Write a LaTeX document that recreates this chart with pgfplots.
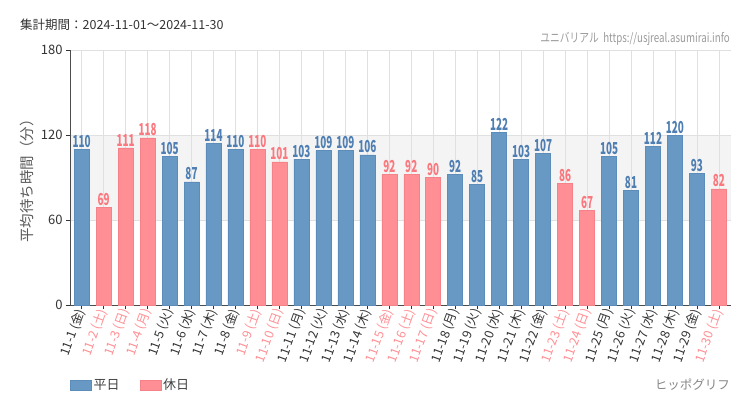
\documentclass[border=0pt]{standalone}
\usepackage{pgfplots}
\pgfplotsset{compat=1.18}
\usepackage{fontspec}
\setmainfont{Noto Sans CJK JP}
\definecolor{wk}{RGB}{104,152,196}
\definecolor{wkd}{RGB}{92,140,186}
\definecolor{wkt}{RGB}{78,126,178}
\definecolor{hol}{RGB}{255,143,148}
\definecolor{hold}{RGB}{244,130,136}
\definecolor{holt}{RGB}{250,120,126}
\definecolor{txt}{RGB}{51,51,51}
\definecolor{gridc}{RGB}{224,224,224}
\definecolor{band}{RGB}{244,244,244}
\begin{document}
\begin{tikzpicture}
\path[use as bounding box] (0,0) rectangle (750pt,410pt);
\fill[band] (70pt,190pt) rectangle (731pt,275pt);
\node[anchor=west,text=txt,font=\fontsize{12.5}{13}\selectfont,inner sep=0] at (20pt,385pt) {集計期間：2024-11-01～2024-11-30};
\node[anchor=east,text=gray!80,font=\fontsize{12.5}{13}\selectfont,inner sep=0] at (730pt,371pt) {\scalebox{0.78}[1]{ユニバリアル\ \ https://usjreal.asumirai.info}};
\node[anchor=east,text=gray!95,font=\fontsize{12.5}{13}\selectfont,inner sep=0] at (730pt,25pt) {ヒッポグリフ};
\begin{axis}[
  at={(70pt,105pt)}, anchor=south west,
  scale only axis, width=661pt, height=255pt,
  xmin=-0.53, xmax=29.55, ymin=0, ymax=180,
  axis lines*=left,
  axis line style={color=black!70, line width=0.8pt},
  ytick={0,60,120,180},
  xtick={0,...,29},
  xmajorgrids, ymajorgrids,
  grid style={gridc, line width=0.6pt},
  tick align=outside,
  major tick length=4pt,
  tick style={black!80, line width=0.8pt},
  /pgf/number format/assume math mode=true,
  yticklabel style={font=\fontsize{13}{13}\selectfont, text=txt},
  xticklabel style={font=\fontsize{12.5}{13}\selectfont, text=txt, rotate=70, anchor=east, inner sep=0.5pt},
  xticklabels={{11-1 (金)},{\color{hol}11-2 (土)},{\color{hol}11-3 (日)},{\color{hol}11-4 (月)},{11-5 (火)},{11-6 (水)},{11-7 (木)},{11-8 (金)},{\color{hol}11-9 (土)},{\color{hol}11-10 (日)},{11-11 (月)},{11-12 (火)},{11-13 (水)},{11-14 (木)},{\color{hol}11-15 (金)},{\color{hol}11-16 (土)},{\color{hol}11-17 (日)},{11-18 (月)},{11-19 (火)},{11-20 (水)},{11-21 (木)},{11-22 (金)},{\color{hol}11-23 (土)},{\color{hol}11-24 (日)},{11-25 (月)},{11-26 (火)},{11-27 (水)},{11-28 (木)},{11-29 (金)},{\color{hol}11-30 (土)}},
  ylabel={平均待ち時間（分）},
  ylabel style={font=\fontsize{14.5}{15}\selectfont, text=black!65},
  ybar, bar width=15pt,
  nodes near coords={\scalebox{0.6}[1]{\pgfmathprintnumber{\pgfplotspointmeta}}},
  every node near coord/.append style={font=\bfseries\fontsize{16.5}{17}\selectfont, inner sep=1.5pt},
  legend style={at={(0,-0.3137)}, anchor=west, draw=none, fill=none, inner sep=0pt, legend columns=2, font=\fontsize{13}{13}\selectfont, text=black!75, /tikz/every even column/.append style={column sep=18pt}},
  legend image code/.code={\path[#1] (0pt,-5pt) rectangle (21pt,5pt);},
]
\addplot[fill=wk, draw=wkd, line width=0.5pt, bar shift=0pt, every node near coord/.append style={text=wkt}] coordinates {
(0,110) (4,105) (5,87) (6,114) (7,110) (10,103) (11,109) (12,109) (13,106) (17,92) (18,85) (19,122) (20,103) (21,107) (24,105) (25,81) (26,112) (27,120) (28,93)
};
\addplot[fill=hol, draw=hold, line width=0.5pt, bar shift=0pt, every node near coord/.append style={text=holt}] coordinates {
(1,69) (2,111) (3,118) (8,110) (9,101) (14,92) (15,92) (16,90) (22,86) (23,67) (29,82)
};
\legend{平日,休日}
\end{axis}
\end{tikzpicture}
\end{document}
